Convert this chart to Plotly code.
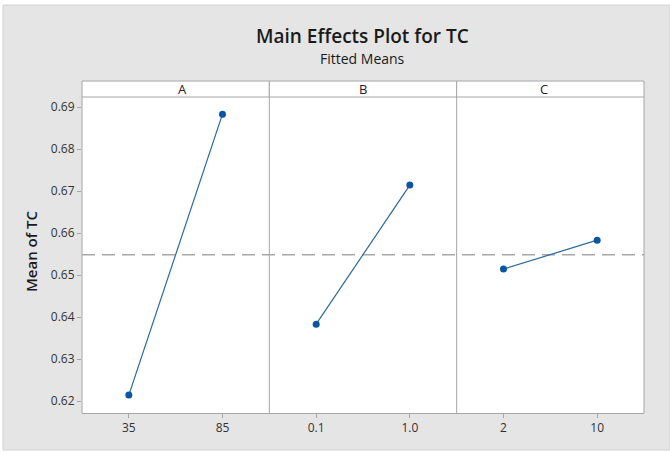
import plotly.graph_objects as go
from plotly.subplots import make_subplots

factors = ["A", "B", "C"]
levels = [["35", "85"], ["0.1", "1.0"], ["2", "10"]]
means = [[0.6214, 0.6883], [0.6383, 0.6714], [0.6514, 0.6583]]
overall_mean = 0.6548
y_ticks = [0.62, 0.63, 0.64, 0.65, 0.66, 0.67, 0.68, 0.69]

W, H = 670, 453
L, R, T, B = 82, 644, 97, 413
PW, PH = R - L, B - T

def px(x):
    return (x - L) / PW

def py(y):
    return (B - y) / PH

FONT = "Open Sans"
GRAY_BG = "#e5e5e5"
AXIS = "#a6a6a6"

fig = make_subplots(rows=1, cols=3, shared_yaxes=True, horizontal_spacing=0)

for i, f in enumerate(factors):
    fig.add_trace(
        go.Scatter(
            x=levels[i], y=means[i], mode="lines+markers",
            line=dict(color="#2a6a98", width=1.2),
            marker=dict(color="#0b55a3", size=7),
            showlegend=False, hoverinfo="x+y",
        ),
        row=1, col=i + 1,
    )
    fig.update_xaxes(
        type="category", range=[-0.5, 1.5],
        showline=True, mirror=True, linecolor=AXIS, linewidth=1,
        showgrid=False, zeroline=False,
        ticks="outside", ticklen=4, tickcolor=AXIS,
        tickfont=dict(family=FONT, size=12, color="#333333"),
        row=1, col=i + 1,
    )
    # header strip
    fig.add_shape(type="rect", xref="paper", yref="paper",
                  x0=i / 3, x1=(i + 1) / 3, y0=1, y1=py(81),
                  fillcolor="white", line=dict(color=AXIS, width=1))
    fig.add_annotation(text=f, xref="paper", yref="paper",
                       x=(i + 0.5) / 3, y=py(89), showarrow=False,
                       yanchor="middle",
                       font=dict(family=FONT, size=13, color="#222222"))

# panel borders / dividers
for xv in [0, 1 / 3, 2 / 3, 1]:
    fig.add_shape(type="line", xref="paper", yref="paper",
                  x0=xv, x1=xv, y0=0, y1=1,
                  line=dict(color=AXIS, width=1))

fig.update_yaxes(
    range=[0.62 - 12 / 4200, 0.69 + 10 / 4200],
    tickvals=y_ticks, ticktext=[f"{v:.2f}" for v in y_ticks],
    showline=False, showgrid=False, zeroline=False,
    tickfont=dict(family=FONT, size=12, color="#333333"),
)
fig.update_yaxes(ticks="outside", ticklen=4, tickcolor=AXIS, row=1, col=1)

# reference (overall mean) line
fig.add_shape(type="line", xref="paper", yref="y", x0=0, x1=1,
              y0=overall_mean, y1=overall_mean, layer="below",
              line=dict(color="#a8a8a8", width=1.5, dash="13px,7px"))

# white edges outside the gray frame
fig.add_shape(type="rect", xref="paper", yref="paper", x0=px(0), x1=px(W),
              y0=py(5), y1=py(0), fillcolor="white", line=dict(width=0))
fig.add_shape(type="rect", xref="paper", yref="paper", x0=px(0), x1=px(3),
              y0=py(H), y1=py(0), fillcolor="white", line=dict(width=0))
fig.add_shape(type="rect", xref="paper", yref="paper", x0=px(0), x1=px(W),
              y0=py(H), y1=py(450), fillcolor="white", line=dict(width=0))
fig.add_shape(type="rect", xref="paper", yref="paper", x0=px(3), x1=px(W),
              y0=py(450), y1=py(5), fillcolor="rgba(0,0,0,0)",
              line=dict(color="#d2d2d2", width=1))

fig.add_annotation(text="Main Effects Plot for TC", xref="paper", yref="paper",
                   x=px(362), y=py(36), showarrow=False, yanchor="middle",
                   font=dict(family=FONT, size=19, color="#1a1a1a", weight=600))
fig.add_annotation(text="Fitted Means", xref="paper", yref="paper",
                   x=px(362), y=py(58), showarrow=False, yanchor="middle",
                   font=dict(family=FONT, size=14, color="#1a1a1a"))
fig.add_annotation(text="Mean of TC", xref="paper", yref="paper",
                   x=px(31), y=py(251), showarrow=False, textangle=-90,
                   xanchor="center", yanchor="middle",
                   font=dict(family=FONT, size=15, color="#1a1a1a", weight=600))

fig.update_layout(
    width=W, height=H,
    margin=dict(l=L, r=W - R, t=T, b=H - B),
    paper_bgcolor=GRAY_BG, plot_bgcolor="white",
    showlegend=False,
)

fig.write_html("out.html", config={"displayModeBar": False},
               post_script="document.body.style.margin='0';document.body.style.overflow='hidden';")
